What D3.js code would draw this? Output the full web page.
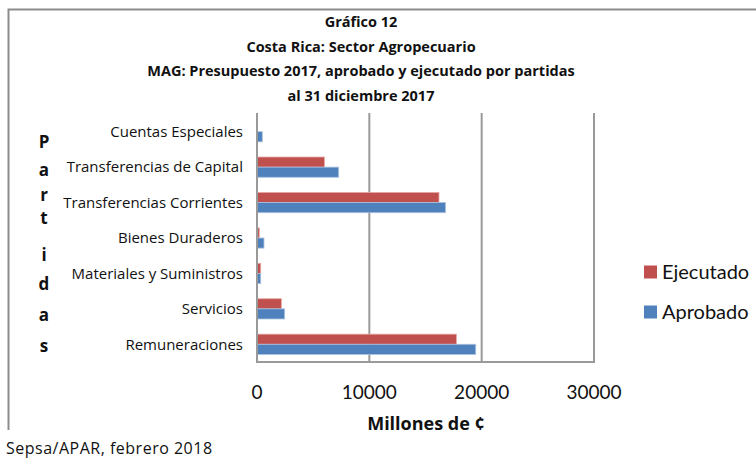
<!DOCTYPE html>
<html>
<head>
<meta charset="utf-8">
<script src="https://cdn.jsdelivr.net/npm/d3@7"></script>
<style>
  body { margin: 0; background: #fff; }
  svg { display: block; font-family: "Open Sans", Lato, sans-serif; }
</style>
</head>
<body>
<svg id="chart" width="756" height="458"></svg>
<script>
// Partidas listed bottom-up, as Excel draws them
const categories = [
  "Remuneraciones", "Servicios", "Materiales y Suministros", "Bienes Duraderos",
  "Transferencias Corrientes", "Transferencias de Capital", "Cuentas Especiales"
];
const ejecutado = [17750, 2170, 330, 200, 16200, 6000, 0];
const aprobado  = [19470, 2460, 330, 620, 16770, 7270, 470];
const seriesNames = ["Ejecutado", "Aprobado"];
const xTicks = [0, 10000, 20000, 30000];
const titleLines = [
  "Gráfico 12",
  "Costa Rica: Sector Agropecuario",
  "MAG: Presupuesto 2017, aprobado y ejecutado por partidas",
  "al 31 diciembre 2017"
];
const yTitle = "Partidas";

const COLORS = { Ejecutado: "#C0504D", Aprobado: "#4F81BD" };

const svg = d3.select("#chart");

// plot area bounds (px)
const P = { left: 257, right: 594, top: 114, bottom: 362 };

const x = d3.scaleLinear().domain([0, 30000]).range([P.left, P.right]);
const y = d3.scaleBand()
  .domain([...categories].reverse())
  .range([P.top, P.bottom]);
const ySub = d3.scaleBand()
  .domain(seriesNames)
  .range([0, y.bandwidth()])
  .paddingInner(0).paddingOuter(0.75);

// outer chart frame (only left and top visible in the crop)
svg.append("path")
  .attr("d", "M8.5,430 V9.5 H760")
  .attr("fill", "none").attr("stroke", "#8c8c8c").attr("stroke-width", 2);

// title
svg.append("g").selectAll("text")
  .data(titleLines)
  .join("text")
  .attr("x", 361).attr("y", (d, i) => 22 + i * 24.7).attr("dy", "0.35em")
  .attr("text-anchor", "middle")
  .attr("font-weight", "bold").attr("font-size", "14.5px").attr("fill", "#111")
  .text(d => d);

// gridlines
svg.append("g").selectAll("line")
  .data(xTicks.slice(1))
  .join("line")
  .attr("x1", d => x(d)).attr("x2", d => x(d))
  .attr("y1", P.top - 1).attr("y2", P.bottom)
  .attr("stroke", "#999").attr("stroke-width", 2);

// bars
const rows = categories.map((c, i) => ({ cat: c, Ejecutado: ejecutado[i], Aprobado: aprobado[i] }));
const groups = svg.append("g").selectAll("g")
  .data(rows)
  .join("g")
  .attr("transform", d => `translate(0,${y(d.cat)})`);
groups.selectAll("rect")
  .data(d => seriesNames.map(s => ({ s, v: d[s] })))
  .join("rect")
  .attr("x", x(0))
  .attr("y", d => ySub(d.s))
  .attr("width", d => x(d.v) - x(0))
  .attr("height", ySub.bandwidth())
  .attr("fill", d => COLORS[d.s])
  .attr("stroke", d => d.s === "Ejecutado" ? "#e6a9a7" : "#a9c0de")
  .attr("stroke-width", d => d.v > 0 ? 0.8 : 0);

// axes lines
svg.append("line")
  .attr("x1", x(0)).attr("x2", x(0)).attr("y1", P.top - 1).attr("y2", P.bottom + 1)
  .attr("stroke", "#999").attr("stroke-width", 2);
svg.append("line")
  .attr("x1", x(0) - 1).attr("x2", P.right + 1).attr("y1", P.bottom).attr("y2", P.bottom)
  .attr("stroke", "#999").attr("stroke-width", 2);

// category labels
svg.append("g").selectAll("text")
  .data(categories)
  .join("text")
  .attr("x", 243).attr("y", d => y(d) + y.bandwidth() / 2).attr("dy", "0.35em")
  .attr("text-anchor", "end").attr("font-size", "15px").attr("fill", "#111")
  .text(d => d);

// x tick labels
svg.append("g").selectAll("text")
  .data(xTicks)
  .join("text")
  .attr("x", d => x(d)).attr("y", 392).attr("dy", "0.35em")
  .attr("text-anchor", "middle").attr("font-family", "Lato, sans-serif")
  .attr("font-size", "19px").attr("fill", "#111")
  .text(d => d);

// x axis title
svg.append("text")
  .attr("x", 426).attr("y", 424).attr("dy", "0.35em")
  .attr("text-anchor", "middle").attr("font-weight", "bold").attr("font-size", "18px")
  .attr("fill", "#111")
  .text("Millones de ¢");

// y axis title, one letter per line
const letterY = [142, 170, 195, 218, 255, 284, 315, 346];
svg.append("g").selectAll("text")
  .data(yTitle.split(""))
  .join("text")
  .attr("x", 44).attr("y", (d, i) => letterY[i]).attr("dy", "0.35em")
  .attr("text-anchor", "middle").attr("font-weight", "bold").attr("font-size", "17px")
  .attr("fill", "#111")
  .text(d => d);

// legend
const leg = svg.append("g").attr("transform", "translate(644,272)");
seriesNames.forEach((s, i) => {
  const row = leg.append("g").attr("transform", `translate(0,${i * 40})`);
  row.append("rect").attr("x", 0).attr("y", -6.5).attr("width", 13).attr("height", 13)
    .attr("fill", COLORS[s]);
  row.append("text").attr("x", 18).attr("dy", "0.35em")
    .attr("font-family", "Lato, sans-serif")
    .attr("font-size", "20px").attr("fill", "#111").text(s);
});

// source note
svg.append("text")
  .attr("x", 6).attr("y", 448).attr("dy", "0.35em")
  .attr("font-size", "16px").attr("letter-spacing", "0.5px").attr("fill", "#111")
  .text("Sepsa/APAR, febrero 2018");
</script>
</body>
</html>
